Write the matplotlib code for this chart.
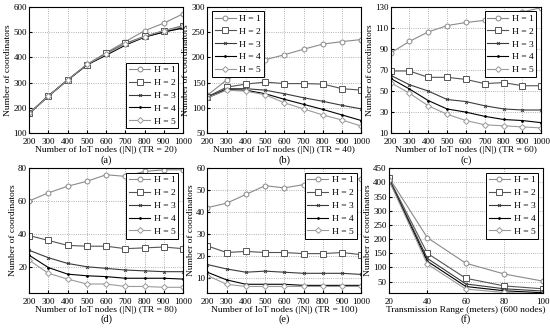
import numpy as np
import matplotlib.pyplot as plt

plt.rcParams['font.family'] = ['Liberation Serif', 'DejaVu Serif']

nodes = [200, 300, 400, 500, 600, 700, 800, 900, 1000]
ranges = [20, 40, 60, 80, 100]
labels = ['H = 1', 'H = 2', 'H = 3', 'H = 4', 'H = 5']

# (a) TR = 20
a_vals = [
    [178, 247, 310, 372, 418, 462, 505, 535, 572],
    [178, 247, 310, 370, 415, 455, 483, 505, 525],
    [178, 247, 310, 370, 410, 450, 480, 500, 518],
    [178, 247, 310, 370, 408, 448, 480, 500, 515],
    [178, 247, 310, 372, 412, 452, 482, 505, 522],
]
# (b) TR = 40
b_vals = [
    [125, 155, 175, 195, 205, 216, 226, 231, 235],
    [122, 141, 147, 151, 148, 148, 147, 138, 135],
    [121, 138, 138, 135, 128, 120, 113, 105, 98],
    [120, 136, 135, 128, 117, 107, 97, 86, 75],
    [120, 135, 133, 126, 110, 98, 86, 76, 64],
]
# (c) TR = 60
c_vals = [
    [86, 97, 106, 112, 115, 117, 123, 125, 129],
    [69, 69, 63, 63, 61, 57, 58, 55, 55],
    [65, 56, 50, 42, 40, 36, 33, 32, 32],
    [62, 52, 41, 33, 30, 26, 23, 22, 20],
    [58, 48, 36, 28, 22, 18, 17, 16, 15],
]
# (d) TR = 80
d_vals = [
    [60, 65, 69, 72, 76, 75, 78, 79, 79],
    [39, 36, 33, 32.5, 32.5, 31, 31.5, 32, 31],
    [30, 25.5, 22, 20, 19, 18, 17.5, 17, 17],
    [27, 19.5, 15.5, 14.5, 14, 13, 13, 13, 12.5],
    [24, 16, 12.5, 9.5, 9.5, 8, 8, 7.5, 7.5],
]
# (e) TR = 100
e_vals = [
    [42, 44, 48, 52, 51, 52.5, 56, 55.5, 55],
    [24.5, 21.5, 22, 21.5, 21.5, 21, 21, 21.5, 20.5],
    [16, 14, 12.5, 13, 12.5, 12, 12, 12, 11.5],
    [12.5, 9, 7, 7, 7, 6.5, 6.5, 6.5, 6.5],
    [11, 7, 6, 6, 6, 6, 6, 6, 6],
]
# (f) 600 nodes, varying TR
f_vals = [
    [418, 205, 115, 77, 52],
    [415, 150, 62, 35, 25],
    [412, 132, 42, 25, 17],
    [410, 122, 33, 18, 11],
    [408, 112, 24, 12, 6],
]

colors = ['#8a8a8a', '#555555', '#3a3a3a', '#000000', '#9a9a9a']
markers = ['o', 's', 'x', '.', 'D']
msizes = [3.5, 3.8, 2.0, 2.5, 3.0]

fig = plt.figure(figsize=(5.5, 3.33), dpi=100)

def panel(rect, x, vals, ylim, yticks, xlabel, tag, loc):
    ax = fig.add_axes(rect)
    for i, v in enumerate(vals):
        ax.plot(x, v, color=colors[i], marker=markers[i], ms=msizes[i],
                mfc='white' if markers[i] in 'osD' else colors[i],
                mew=0.7, lw=0.8, label=labels[i])
    ax.set_xlim(x[0], x[-1])
    ax.set_ylim(*ylim)
    ax.set_xticks(x)
    ax.set_yticks(yticks)
    ax.tick_params(labelsize=6.5, direction='in', length=2, pad=1.5)
    ax.tick_params(axis='x', pad=3.5)
    ax.grid(True, linestyle=':', color='#999999', lw=0.6)
    ax.set_xlabel(xlabel, fontsize=6.8, labelpad=0.3)
    ax.text(0.5, -0.21, tag, transform=ax.transAxes, ha='center', va='center',
            fontsize=7.5)
    ax.set_ylabel('Number of coordinators', fontsize=6.8, labelpad=1)
    leg = ax.legend(loc=loc, fontsize=6.8, fancybox=False, edgecolor='black',
                    handlelength=2.2, borderpad=0.3, labelspacing=0.45,
                    handletextpad=0.4, framealpha=1)
    leg.get_frame().set_linewidth(0.7)
    return ax

ws = 0.28
top_b, top_h = 0.6, 0.38
bot_b, bot_h = 0.12, 0.375

panel([0.053, top_b, ws, top_h], nodes, a_vals, (100, 600), range(100, 601, 100),
      'Number of IoT nodes (|N|) (TR = 20)', '(a)', 'lower right')
panel([0.377, top_b, ws, top_h], nodes, b_vals, (50, 300), range(50, 301, 50),
      'Number of IoT nodes (|N|) (TR = 40)', '(b)', 'upper left')
panel([0.71, top_b, 0.274, top_h], nodes, c_vals, (10, 130), range(10, 131, 20),
      'Number of IoT nodes (|N|) (TR = 60)', '(c)', 'upper right')
panel([0.053, bot_b, ws, bot_h], nodes, d_vals, (4, 80), [20, 40, 60, 80],
      'Number of IoT nodes (|N|) (TR = 80)', '(d)', 'upper right')
panel([0.377, bot_b, ws, bot_h], nodes, e_vals, (3, 60), range(10, 61, 10),
      'Number of IoT nodes (|N|) (TR = 100)', '(e)', 'upper right')
panel([0.707, bot_b, 0.28, bot_h], ranges, f_vals, (10, 450), range(50, 451, 50),
      'Transmission Range (meters) (600 nodes)', '(f)', 'upper right')

fig.savefig('out.png', dpi=100)
